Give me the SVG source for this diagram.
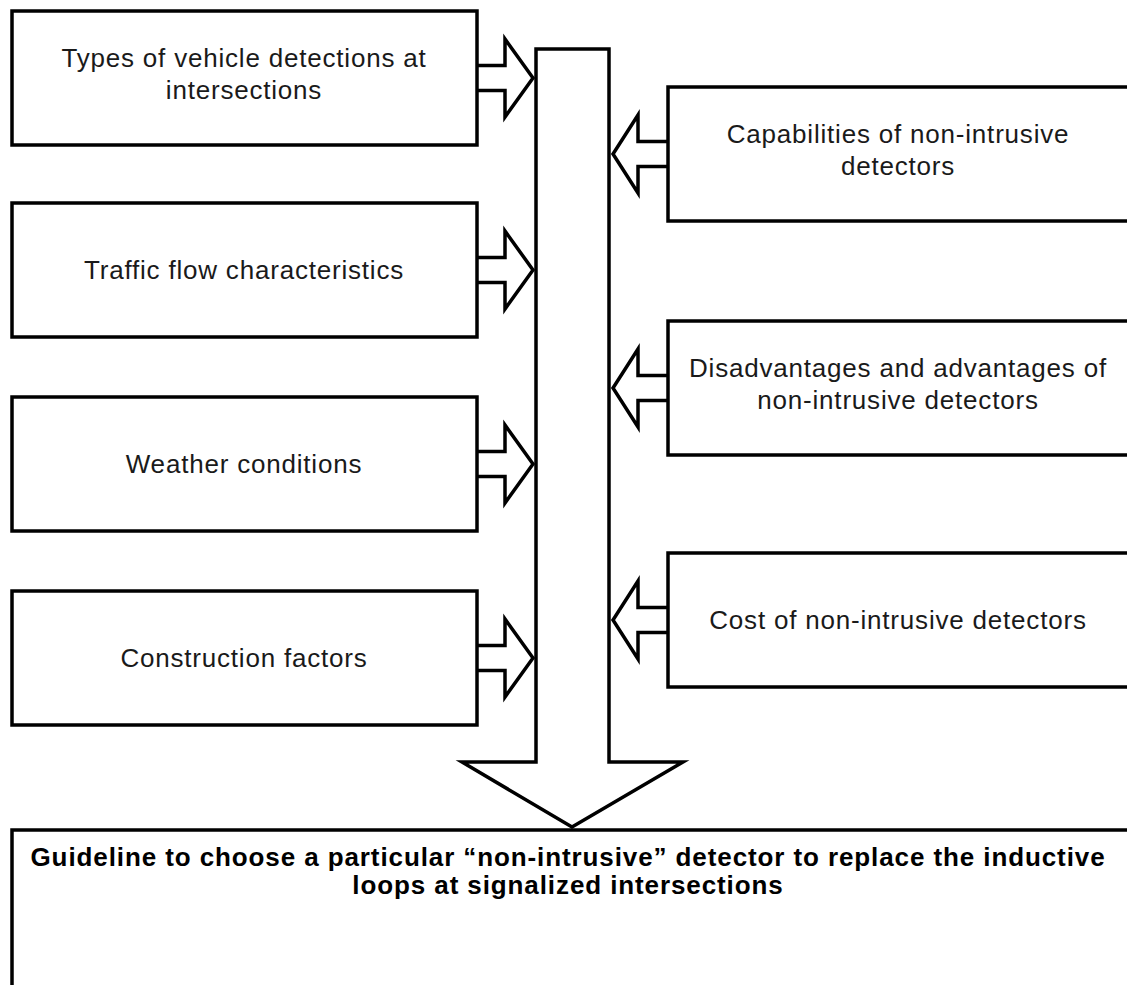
<svg xmlns="http://www.w3.org/2000/svg" width="1127" height="985" viewBox="0 0 1127 985">
<style>
.box{fill:#fff;stroke:#000;stroke-width:3.5}
.arr{fill:#fff;stroke:#000;stroke-width:3.5;stroke-linejoin:miter}
.t{font-family:"Liberation Sans",Arial,sans-serif;font-size:26px;letter-spacing:0.8px;fill:#1a1a1a;text-anchor:middle}
.b{font-family:"Liberation Sans",Arial,sans-serif;font-size:26px;font-weight:bold;letter-spacing:0.9px;fill:#000;text-anchor:middle}
</style>
<rect width="1127" height="985" fill="#fff"/>
<g id="connectors">
<polygon class="arr" points="536,49 609,49 609,762 683,762 572,827 462,762 536,762"/>
<polyline class="arr" points="477,65.5 505,65.5 505,39 533,78 505,117 505,90.5 477,90.5"/>
<polyline class="arr" points="477,257.5 505,257.5 505,231 533,270 505,309 505,282.5 477,282.5"/>
<polyline class="arr" points="477,451.5 505,451.5 505,425 533,464 505,503 505,476.5 477,476.5"/>
<polyline class="arr" points="477,645.5 505,645.5 505,619 533,658 505,697 505,670.5 477,670.5"/>
<polyline class="arr" points="668,141.5 638,141.5 638,115 613,154 638,193 638,166.5 668,166.5"/>
<polyline class="arr" points="668,375.5 638,375.5 638,349 613,388 638,427 638,400.5 668,400.5"/>
<polyline class="arr" points="668,607.5 638,607.5 638,581 613,620 638,659 638,632.5 668,632.5"/>
</g>
<g id="n1"><rect class="box" x="12" y="11" width="465" height="134"/><text class="t" x="244" y="67">Types of vehicle detections at</text><text class="t" x="244" y="99">intersections</text></g>
<g id="n2"><rect class="box" x="12" y="203" width="465" height="134"/><text class="t" x="244" y="279">Traffic flow characteristics</text></g>
<g id="n3"><rect class="box" x="12" y="397" width="465" height="134"/><text class="t" x="244" y="473">Weather conditions</text></g>
<g id="n4"><rect class="box" x="12" y="591" width="465" height="134"/><text class="t" x="244" y="667">Construction factors</text></g>
<g id="n5"><rect class="box" x="668" y="87" width="470" height="134"/><text class="t" x="898" y="143">Capabilities of non-intrusive</text><text class="t" x="898" y="175">detectors</text></g>
<g id="n6"><rect class="box" x="668" y="321" width="470" height="134"/><text class="t" x="898" y="377">Disadvantages and advantages of</text><text class="t" x="898" y="409">non-intrusive detectors</text></g>
<g id="n7"><rect class="box" x="668" y="553" width="470" height="134"/><text class="t" x="898" y="629">Cost of non-intrusive detectors</text></g>
<g id="n8"><rect class="box" x="12" y="830" width="1130" height="170"/><text class="b" x="568" y="866">Guideline to choose a particular “non-intrusive” detector to replace the inductive</text><text class="b" x="568" y="894">loops at signalized intersections</text></g>
</svg>
